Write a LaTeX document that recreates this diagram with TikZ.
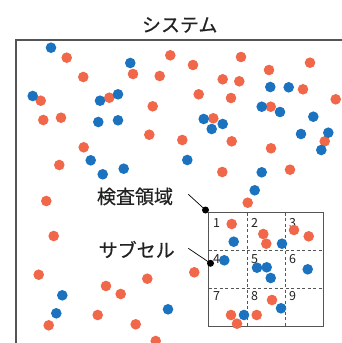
\documentclass[tikz,border=0pt]{standalone}
\usepackage{fontspec}
\newfontfamily\jp[BoldFont={Noto Sans CJK JP},BoldFeatures={FakeBold=0.6}]{Noto Sans CJK JP}
\definecolor{dotor}{HTML}{F0674A}
\definecolor{dotbl}{HTML}{1B72BE}
\definecolor{frame}{HTML}{555555}
\definecolor{ink}{HTML}{222222}
\begin{document}
\begin{tikzpicture}[x=1pt,y=-1pt,
  od/.style={fill=dotor},
  bd/.style={fill=dotbl},
  lbl/.style={text=ink,font=\jp\bfseries\fontsize{19}{19}\selectfont,inner sep=0pt},
  num/.style={text=ink,font=\jp\fontsize{12.5}{12.5}\selectfont,inner sep=0pt},
  grid/.style={draw=frame,line width=0.8pt,dash pattern=on 3pt off 2.5pt},
  leader/.style={draw=black,line width=0.7pt}]
\useasboundingbox (0,0) rectangle (342,343);
% system frame
\draw[frame,line width=1.1pt] (16,343) -- (16,40) -- (342,40);
\node[lbl] (title) at (179.7,25) {システム};
% inspection region
\draw[frame,line width=1.1pt] (208.7,212.7) rectangle (323.3,326.7);
\draw[grid] (247.3,212.7) -- (247.3,326.7);
\draw[grid] (285.3,212.7) -- (285.3,326.7);
\draw[grid] (208.7,250.7) -- (323.3,250.7);
\draw[grid] (208.7,288.7) -- (323.3,288.7);
\node[num] (n1) at (216.5,222.7) {1};
\node[num] (n2) at (254.5,222.7) {2};
\node[num] (n3) at (292.5,222.7) {3};
\node[num] (n4) at (216.5,259.5) {4};
\node[num] (n5) at (254.5,259.5) {5};
\node[num] (n6) at (292.5,259.5) {6};
\node[num] (n7) at (216.5,296.5) {7};
\node[num] (n8) at (254.5,296.5) {8};
\node[num] (n9) at (292.5,296.5) {9};
% dots
\def\r{5.3}
\foreach \x/\y in {66.7/57.7,83.3/77,133/74,170.3/55.3,159.7/76,193/65,241/57,222.7/79.3,239.3/81.3,269/70,310/62.7,40.7/100.7,109.3/97.7,152.7/106.3,198.7/94.3,231/98,303/89.3,335.7/99.3,270.7/106.7,43.3/120,61/117.7,213.3/118.3,324.7/141.3,149.3/134.7,182.3/140,231.7/141.3,271/148.3,83.7/147.3,59.3/165,222.3/172,290/169.7,247.7/202.7,46.3/201,53.7/236,38.7/274.7,48.7/325.3,106/286,120.7/294,147.3/278.7,97.7/315,135.7/324.3,155.7/341,194.3/272.3,231.7/224,263.3/234,266.3/243.7,294/230,308.7/236.3,272/300,231/315,237/323.7,256.7/315}
  \fill[od] (\x,\y) circle (\r);
\foreach \x/\y in {51/47.7,130.3/63,32.7/96,100/100.7,118/94.3,270.3/87,288.7/87.3,261.7/106.7,280/112,313.3/116.7,98.3/122,118/120.3,203.7/119,211.7/129,222.7/124,301/134,328.3/132.7,321.3/150,90.7/160.3,102.7/174.3,123.7/168.7,187.3/160,261.7/172.3,254.7/190.3,62.3/295.3,56.3/313.3,168/309.3,233.7/241.7,282/243.7,224.3/260.3,257/267.7,266.7/267.3,270.7/278,307.7/269.3,281/308.3,244/315}
  \fill[bd] (\x,\y) circle (\r);
% labels and leaders
\node[lbl] (insp) at (135,196.5) {検査領域};
\node[lbl] (sub) at (136.7,249.5) {サブセル};
\coordinate (inspdot) at (205.5,210);
\coordinate (subdot) at (210.5,263.3);
\coordinate (inspstart) at (188.3,194.3);
\coordinate (substart) at (188.3,248.3);
\draw[leader] (inspstart) -- (inspdot);
\draw[leader] (substart) -- (subdot);
\fill[black] (inspdot) circle (3.5);
\fill[black] (subdot) circle (3.5);
\end{tikzpicture}
\end{document}
